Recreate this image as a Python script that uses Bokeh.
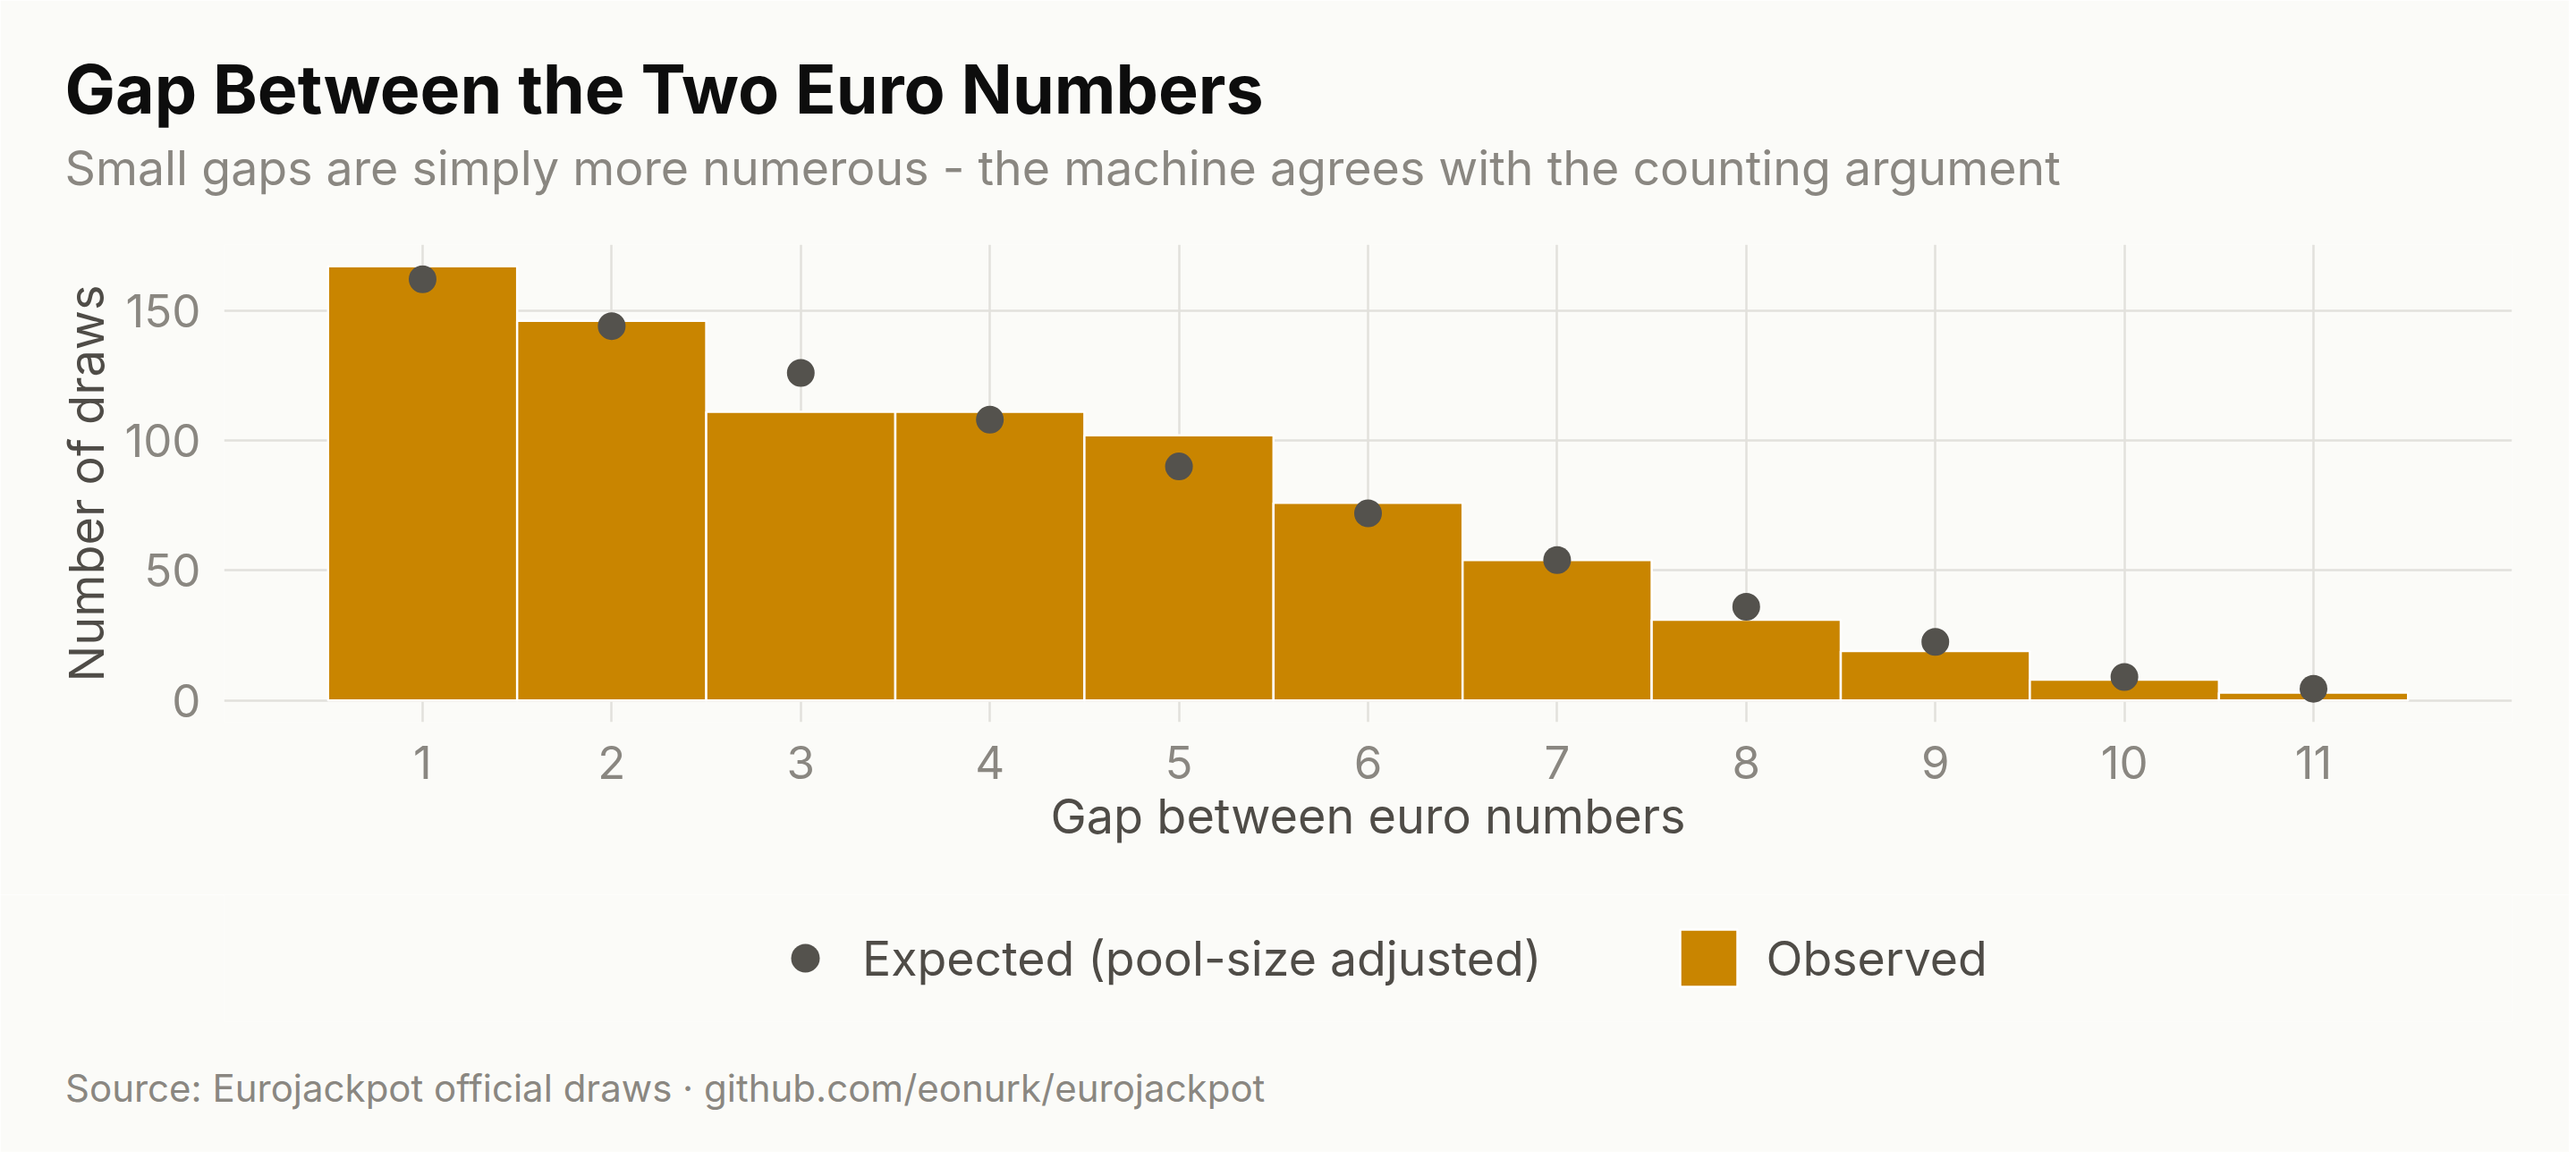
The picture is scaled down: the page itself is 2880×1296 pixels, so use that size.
from bokeh.plotting import figure
from bokeh.layouts import column
from bokeh.models import (Range1d, FixedTicker, Title, Legend, LegendItem, ColumnDataSource)
from bokeh.embed import file_html
from bokeh.resources import INLINE

# ---- data ----
gaps = [1, 2, 3, 4, 5, 6, 7, 8, 9, 10, 11]
observed = [167, 146, 111, 111, 102, 76, 54, 31, 19, 8, 3]
expected = [162, 144, 126, 108, 90, 72, 54, 36, 22.5, 9, 4.5]
y_ticks = [0, 50, 100, 150]

title_text = "Gap Between the Two Euro Numbers"
subtitle_text = "Small gaps are simply more numerous - the machine agrees with the counting argument"
caption_text = "Source: Eurojackpot official draws \u00b7 github.com/eonurk/eurojackpot"
x_title = "Gap between euro numbers"
y_title = "Number of draws"
label_expected = "Expected (pool-size adjusted)"
label_observed = "Observed"

# ---- style ----
BG = "#fbfbf8"
BAR = "#c98500"
DOT = "#54524d"
GRID = "#e2e1dc"
TICK_TXT = "#8a8781"
AX_TXT = "#4f4c47"
FONT = "Inter"

W = 2872
H_MAIN, H_FOOT = 1000, 288
FOOT_BOTTOM = 145

# ---- main chart ----
p = figure(width=W, height=H_MAIN, output_backend="svg", toolbar_location=None,
           x_range=Range1d(-0.05, 12.05), y_range=Range1d(-8.35, 175.35),
           min_border_left=250, min_border_right=64, min_border_top=273,
           min_border_bottom=H_MAIN - 807)
p.title = None
p.background_fill_color = BG
p.border_fill_color = BG
p.outline_line_color = None

src = ColumnDataSource(dict(gap=gaps, obs=observed, exp=expected))
bars = p.vbar(x="gap", top="obs", bottom=0, width=1.0, source=src,
              fill_color=BAR, line_color="white", line_width=2.5)
dots = p.scatter(x="gap", y="exp", source=src, size=31, marker="circle",
                 fill_color=DOT, line_color=DOT, line_width=0)

p.xgrid.ticker = FixedTicker(ticks=gaps)
p.ygrid.ticker = FixedTicker(ticks=y_ticks)
for g in (p.xgrid[0], p.ygrid[0]):
    g.grid_line_color = GRID
    g.grid_line_width = 2.5

for ax in (p.xaxis[0], p.yaxis[0]):
    ax.axis_line_color = None
    ax.major_tick_line_color = None
    ax.minor_tick_line_color = None
    ax.major_tick_out = 0
    ax.major_tick_in = 0
    ax.minor_tick_out = 0
    ax.major_label_text_font = FONT
    ax.major_label_text_font_size = "51px"
    ax.major_label_text_color = TICK_TXT
    ax.axis_label_text_font = FONT
    ax.axis_label_text_font_size = "54px"
    ax.axis_label_text_font_style = "normal"
    ax.axis_label_text_color = AX_TXT

p.xaxis[0].ticker = FixedTicker(ticks=gaps)
p.xaxis[0].major_label_standoff = 26
p.xaxis[0].axis_label = x_title
p.xaxis[0].axis_label_standoff = 6

p.yaxis[0].ticker = FixedTicker(ticks=y_ticks)
p.yaxis[0].major_label_standoff = 26
p.yaxis[0].axis_label = y_title
p.yaxis[0].axis_label_standoff = 7

# titles in the top panel (first added sits closest to the frame)
p.add_layout(Title(text=subtitle_text, align="left", vertical_align="bottom",
                   offset=-178, standoff=107, text_font=FONT, text_font_size="53.7px",
                   text_font_style="normal", text_color=TICK_TXT), "above")
p.add_layout(Title(text=title_text, align="left", vertical_align="bottom",
                   offset=-178, standoff=-91, text_font=FONT, text_font_size="75.3px",
                   text_font_style="bold", text_color="#0d0d0d"), "above")

# ---- footer: legend + caption (frame is aligned with the main frame) ----
foot = figure(width=W, height=H_FOOT, output_backend="svg", toolbar_location=None,
              x_range=Range1d(0, 1), y_range=Range1d(0, 1),
              x_axis_type=None, y_axis_type=None,
              min_border_left=250, min_border_right=64, min_border_top=0,
              min_border_bottom=FOOT_BOTTOM)
foot.title = None
foot.background_fill_color = BG
foot.border_fill_color = BG
foot.outline_line_color = None
foot.grid.visible = False

# legend keys share the chart's data source; hidden in the footer itself
key_dot = foot.scatter(x="gap", y="exp", source=src, size=31, marker="circle",
                       fill_color=DOT, line_color=DOT, line_width=0, visible=False)
key_bar = foot.vbar(x="gap", top="obs", bottom=0, width=1.0, source=src,
                    fill_color=BAR, line_color="white", line_width=2.5, visible=False)

legend = Legend(items=[LegendItem(label=label_expected, renderers=[key_dot]),
                       LegendItem(label=label_observed, renderers=[key_bar])],
                location=(610, 31),
                orientation="horizontal",
                glyph_width=80, glyph_height=80, label_standoff=24,
                padding=0, margin=0, spacing=147,
                border_line_color=None, background_fill_alpha=0,
                label_text_font=FONT, label_text_font_size="53.6px",
                label_text_color=AX_TXT, label_text_baseline="middle")
foot.add_layout(legend, "center")

foot.add_layout(Title(text=caption_text, align="left", vertical_align="bottom",
                      offset=-177.5, standoff=92.6, text_font=FONT, text_font_size="42px",
                      text_font_style="normal", text_color=TICK_TXT), "below")

layout = column(p, foot)
html = file_html(layout, INLINE)
html = html.replace("<body>", '<body style="background-color:%s;">' % BG, 1)
open("out.html", "w").write(html)
